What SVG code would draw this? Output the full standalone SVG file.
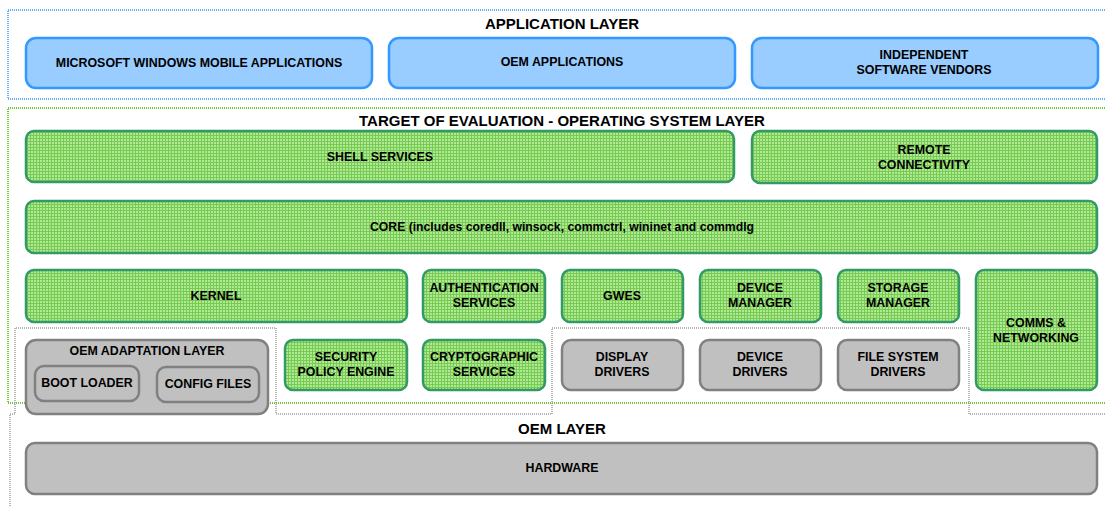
<svg xmlns="http://www.w3.org/2000/svg" width="1105" height="506" viewBox="0 0 1105 506">
<defs>
<pattern id="grid" patternUnits="userSpaceOnUse" width="3" height="3">
<rect width="3" height="3" fill="#b2e895"/>
<rect width="3" height="1" fill="#76cc52"/>
<rect width="1" height="3" fill="#76cc52"/>
</pattern>
</defs>
<style>
text{font-family:"Liberation Sans",Arial,sans-serif;font-weight:bold;fill:#000;text-anchor:middle;}
.t{font-size:12.4px;}
.h{font-size:15px;}
.blue{fill:#99ccff;stroke:#3399ff;stroke-width:2.5;}
.green{fill:url(#grid);stroke:#339966;stroke-width:2.5;}
.gray{fill:#c0c0c0;stroke:#808080;stroke-width:2.5;}
.lb{fill:none;stroke:#6aaef5;stroke-width:2;stroke-dasharray:1 1;}
.lg{fill:none;stroke:#6cc83a;stroke-width:2;stroke-dasharray:1 1;}
.lo{fill:none;stroke:#a0a0a0;stroke-width:1.5;stroke-dasharray:1 1;}
</style>
<g id="layers">
<rect class="lb" x="8" y="10" width="1110" height="89"/>
<rect class="lg" x="8" y="108" width="1110" height="295"/>
<path class="lo" d="M10,510 V414 H15 V328 H276 V414 H552 V328 H969 V414 H1110"/>
<text class="h" x="562" y="29">APPLICATION LAYER</text>
<text class="h" x="562" y="126">TARGET OF EVALUATION - OPERATING SYSTEM LAYER</text>
<text class="h" x="562" y="434">OEM LAYER</text>
</g>
<g id="ms-apps"><rect class="blue" x="26" y="38" width="346" height="50" rx="10"/><text class="t" x="199" y="67">MICROSOFT WINDOWS MOBILE APPLICATIONS</text></g>
<g id="oem-apps"><rect class="blue" x="389" y="38" width="346" height="50" rx="10"/><text class="t" x="562" y="66">OEM APPLICATIONS</text></g>
<g id="isv"><rect class="blue" x="752" y="38" width="346" height="50" rx="10"/><text class="t" x="924" y="59">INDEPENDENT</text><text class="t" x="924" y="74">SOFTWARE VENDORS</text></g>
<g id="shell"><rect class="green" x="26" y="131" width="708" height="51" rx="8"/><text class="t" x="380" y="161">SHELL SERVICES</text></g>
<g id="remote"><rect class="green" x="752" y="131" width="345" height="52" rx="8"/><text class="t" x="924" y="154">REMOTE</text><text class="t" x="924" y="169">CONNECTIVITY</text></g>
<g id="core"><rect class="green" x="26" y="201" width="1071" height="52" rx="8"/><text class="t" x="562" y="231" textLength="384" lengthAdjust="spacingAndGlyphs">CORE (includes coredll, winsock, commctrl, wininet and commdlg</text></g>
<g id="kernel"><rect class="green" x="26" y="270" width="381" height="52" rx="8"/><text class="t" x="216" y="300">KERNEL</text></g>
<g id="auth"><rect class="green" x="423" y="270" width="122" height="52" rx="8"/><text class="t" x="484" y="292">AUTHENTICATION</text><text class="t" x="484" y="307">SERVICES</text></g>
<g id="gwes"><rect class="green" x="562" y="270" width="121" height="52" rx="8"/><text class="t" x="622" y="300">GWES</text></g>
<g id="devmgr"><rect class="green" x="700" y="270" width="121" height="52" rx="8"/><text class="t" x="760" y="292">DEVICE</text><text class="t" x="760" y="307">MANAGER</text></g>
<g id="stormgr"><rect class="green" x="838" y="270" width="121" height="52" rx="8"/><text class="t" x="898" y="292">STORAGE</text><text class="t" x="898" y="307">MANAGER</text></g>
<g id="comms"><rect class="green" x="976" y="270" width="121" height="120" rx="8"/><text class="t" x="1036" y="327">COMMS &amp;</text><text class="t" x="1036" y="342">NETWORKING</text></g>
<g id="oal"><rect class="gray" x="26" y="340" width="242" height="74" rx="10"/><text class="t" x="147" y="355">OEM ADAPTATION LAYER</text></g>
<g id="boot"><rect class="gray" x="35" y="366" width="104" height="35" rx="9"/><text class="t" x="87" y="387">BOOT LOADER</text></g>
<g id="config"><rect class="gray" x="157" y="367" width="102" height="35" rx="9"/><text class="t" x="208" y="388">CONFIG FILES</text></g>
<g id="secpol"><rect class="green" x="285" y="340" width="122" height="50" rx="8"/><text class="t" x="346" y="361">SECURITY</text><text class="t" x="346" y="376">POLICY ENGINE</text></g>
<g id="crypto"><rect class="green" x="423" y="340" width="122" height="50" rx="8"/><text class="t" x="484" y="361">CRYPTOGRAPHIC</text><text class="t" x="484" y="376">SERVICES</text></g>
<g id="display"><rect class="gray" x="562" y="340" width="121" height="50" rx="9"/><text class="t" x="622" y="361">DISPLAY</text><text class="t" x="622" y="376">DRIVERS</text></g>
<g id="devdrv"><rect class="gray" x="700" y="340" width="121" height="50" rx="9"/><text class="t" x="760" y="361">DEVICE</text><text class="t" x="760" y="376">DRIVERS</text></g>
<g id="fsdrv"><rect class="gray" x="838" y="340" width="121" height="50" rx="9"/><text class="t" x="898" y="361">FILE SYSTEM</text><text class="t" x="898" y="376">DRIVERS</text></g>
<g id="hardware"><rect class="gray" x="26" y="443" width="1071" height="51" rx="9"/><text class="t" x="562" y="472">HARDWARE</text></g>
<g id="connectors"/>
</svg>
